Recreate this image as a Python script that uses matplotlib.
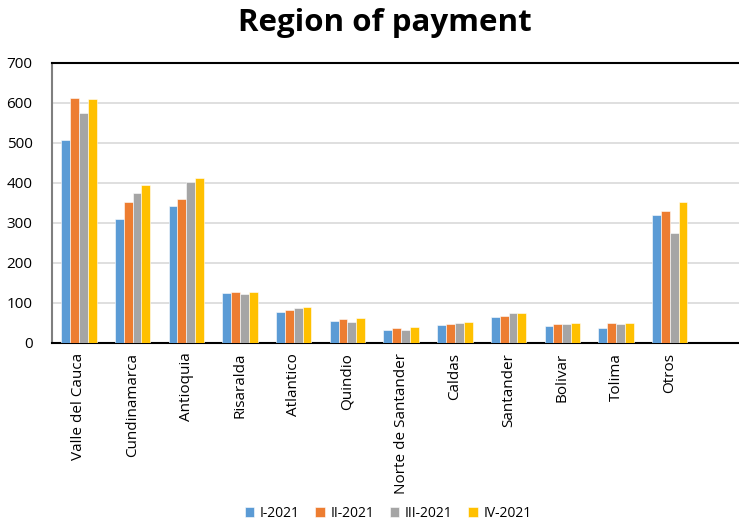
import numpy as np
import matplotlib
matplotlib.use("Agg")
import matplotlib.pyplot as plt

plt.rcParams['font.family'] = ['Open Sans', 'DejaVu Sans']

# Datos
regiones = ['Valle del Cauca', 'Cundinamarca', 'Antioquia', 'Risaralda', 'Atlantico',
            'Quindio', 'Norte de Santander', 'Caldas', 'Santander', 'Bolivar',
            'Tolima', 'Otros']
trimestres = ['I-2021', 'II-2021', 'III-2021', 'IV-2021']

q1 = [507, 309, 342, 124, 78, 54, 32, 45, 64, 43, 37, 319]
q2 = [612, 353, 360, 127, 82, 60, 37, 48, 68, 47, 50, 330]
q3 = [576, 374, 402, 123, 87, 52, 32, 50, 74, 48, 47, 274]
q4 = [611, 395, 412, 127, 90, 62, 40, 52, 75, 51, 49, 352]

colores = ['#5B9BD5', '#ED7D31', '#A5A5A5', '#FFC000']

fig = plt.figure(figsize=(7.39, 5.22), dpi=100)
ax = fig.add_axes([52 / 739, 1 - 343 / 522, 1 - 52 / 739, (343 - 63) / 522])

x = np.arange(len(regiones))
ancho = 0.165
for i, (serie, color, nombre) in enumerate(zip([q1, q2, q3, q4], colores, trimestres)):
    ax.bar(x + (i - 1.5) * ancho, serie, width=ancho, color=color,
           edgecolor='white', linewidth=0.4, label=nombre, zorder=3)

# Formato
ax.set_ylim(0, 700)
ax.set_yticks(range(0, 701, 100))
ax.set_xlim(-0.5, 12.29)
ax.set_xticks(x)
ax.set_xticklabels(regiones, rotation=90, fontsize=11)
ax.tick_params(axis='y', labelsize=11, length=0, pad=14)
ax.tick_params(axis='x', length=0, pad=7)
ax.grid(axis='y', color='#D9D9D9', linewidth=1.2, zorder=0)
ax.spines['left'].set_color('#7F7F7F')
ax.spines['left'].set_linewidth(1.5)
ax.spines['bottom'].set_linewidth(1.5)
ax.spines['top'].set_linewidth(1.5)
ax.spines['right'].set_visible(False)

fig.text(0.521, 0.955, 'Region of payment', ha='center', va='center',
         fontsize=22.5, fontweight='bold')

fig.legend(loc='lower center', bbox_to_anchor=(0.525, -0.022), ncol=4, frameon=False,
           fontsize=10, handlelength=0.7, handleheight=0.7, handletextpad=0.4,
           columnspacing=1.1)

fig.savefig('out.png', dpi=100)
